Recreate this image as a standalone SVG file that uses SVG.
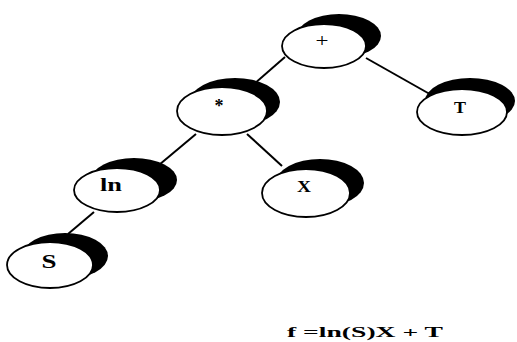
<svg xmlns="http://www.w3.org/2000/svg" width="517" height="342" viewBox="0 0 517 342">
  <style>
    .edge { stroke: #000; stroke-width: 2; fill: none; }
    .shadow { fill: #000; }
    .body { fill: #fff; stroke: #000; stroke-width: 1.8; }
    .lbl { font-family: "Liberation Serif", "Times New Roman", serif; font-weight: bold; fill: #000; text-anchor: middle; }
    .thin { font-weight: normal; }
  </style>
  <rect width="517" height="342" fill="#fff"/>

  <!-- tree edges -->
  <g id="connectors">
    <line class="edge" x1="285" y1="57" x2="254" y2="84"/>
    <line class="edge" x1="366" y1="58" x2="435" y2="97"/>
    <line class="edge" x1="196" y1="134" x2="147" y2="175"/>
    <line class="edge" x1="247" y1="134" x2="282" y2="166"/>
    <line class="edge" x1="94" y1="212" x2="68" y2="234"/>
  </g>

  <!-- operator / operand nodes: black crescent shadow behind a white ellipse -->
  <g id="node-plus">
    <ellipse class="shadow" cx="339" cy="36" rx="42" ry="22"/>
    <ellipse class="body" cx="324" cy="46" rx="42" ry="22"/>
    <text class="lbl thin" x="322" y="47" font-size="18" textLength="13" lengthAdjust="spacingAndGlyphs">+</text>
  </g>

  <g id="node-mul">
    <ellipse class="shadow" cx="235" cy="102" rx="45" ry="24"/>
    <ellipse class="body" cx="222" cy="111" rx="45" ry="24"/>
    <text class="lbl" x="219" y="112" font-size="18">*</text>
  </g>

  <g id="node-T">
    <ellipse class="shadow" cx="470" cy="101" rx="45" ry="23"/>
    <ellipse class="body" cx="462" cy="112" rx="45" ry="23"/>
    <text class="lbl" x="460" y="113" font-size="17" textLength="12" lengthAdjust="spacingAndGlyphs">T</text>
  </g>

  <g id="node-ln">
    <ellipse class="shadow" cx="134" cy="180" rx="43" ry="22"/>
    <ellipse class="body" cx="117" cy="190" rx="43" ry="22"/>
    <text class="lbl" x="111" y="191" font-size="18" textLength="22" lengthAdjust="spacingAndGlyphs">ln</text>
  </g>

  <g id="node-X">
    <ellipse class="shadow" cx="320" cy="183" rx="44" ry="24"/>
    <ellipse class="body" cx="306" cy="193" rx="44" ry="24"/>
    <text class="lbl" x="304" y="192" font-size="17" textLength="14" lengthAdjust="spacingAndGlyphs">X</text>
  </g>

  <g id="node-S">
    <ellipse class="shadow" cx="65" cy="256" rx="43" ry="23"/>
    <ellipse class="body" cx="50" cy="265" rx="43" ry="23"/>
    <text class="lbl" x="49" y="268" font-size="18" textLength="15" lengthAdjust="spacingAndGlyphs">S</text>
  </g>

  <!-- expression caption -->
  <text class="lbl" x="365" y="337" font-size="15" textLength="156" lengthAdjust="spacingAndGlyphs">f =ln(S)X + T</text>
</svg>
